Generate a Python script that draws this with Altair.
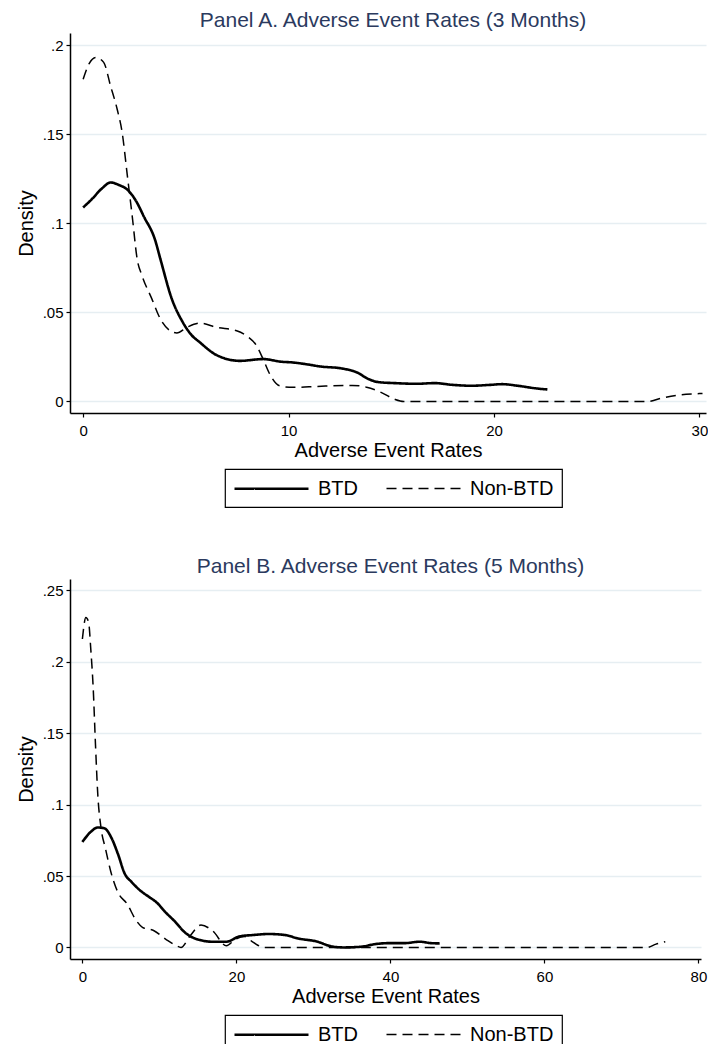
import altair as alt
import pandas as pd

# ---- Panel A (3 months) ----
a_btd_x = [0, 0.42, 0.9, 1.34, 1.74, 2.15, 2.62, 2.95, 3.5, 3.76, 4.32, 4.82, 5.26, 5.69, 6.5,
           7.63, 8.76, 9.65, 10.2, 10.97, 11.5, 12.6, 13.4, 13.8, 14.4, 15.15, 16.25, 17.1,
           18.0, 18.9, 19.8, 20.4, 21.1, 22.0, 22.6]
a_btd_y = [0.109, 0.1136, 0.1195, 0.123, 0.1216, 0.119, 0.1117, 0.104, 0.0908, 0.080, 0.0575,
           0.0451, 0.0375, 0.0331, 0.026, 0.0228, 0.0238, 0.0223, 0.0219, 0.0207, 0.0197,
           0.0185, 0.0159, 0.0131, 0.0108, 0.0103, 0.0099, 0.0103, 0.0093, 0.0088, 0.0093,
           0.0097, 0.0089, 0.0074, 0.0067]
a_non_x = [0, 0.3, 0.61, 1.0, 1.34, 1.66, 1.9, 2.15, 2.39, 2.63, 2.87, 3.35, 3.76, 4.24, 4.56,
           5.05, 5.69, 6.5, 7.47, 7.95, 8.44, 8.76, 9.08, 9.56, 10.2, 11.0, 11.8, 13.1, 13.8,
           14.5, 15.15, 15.6, 27.5, 28.1, 29.0, 30.0, 30.15]
a_non_y = [0.181, 0.19, 0.1933, 0.1905, 0.177, 0.164, 0.151, 0.127, 0.104, 0.080, 0.0706,
           0.0575, 0.0463, 0.0397, 0.0385, 0.0416, 0.044, 0.0416, 0.0397, 0.0369, 0.0313,
           0.0238, 0.0154, 0.0088, 0.0079, 0.0082, 0.0086, 0.009, 0.008, 0.0051, 0.0013,
           0.0, 0.0, 0.0017, 0.0036, 0.0044, 0.0045]

# ---- Panel B (5 months) ----
b_btd_x = [0, 1.1, 2.0, 2.9, 3.7, 4.6, 5.5, 6.4, 7.5, 8.7, 9.6, 10.8, 11.9, 13.4, 15.1, 16.9,
           18.7, 20.4, 22.2, 24.2, 26.3, 28.0, 30.4, 32.4, 33.9, 36.2, 38.0, 39.7, 41.8, 43.8,
           45.3, 46.4]
b_btd_y = [0.0739, 0.081, 0.084, 0.0833, 0.0775, 0.0657, 0.0516, 0.0458, 0.0399, 0.0352,
           0.0317, 0.0246, 0.0188, 0.0101, 0.0054, 0.004, 0.004, 0.0077, 0.0087, 0.0094,
           0.0087, 0.0063, 0.0042, 0.0007, 0.0, 0.0005, 0.0023, 0.003, 0.003, 0.004, 0.003,
           0.0028]
b_non_x = [0, 0.45, 0.8, 1.1, 1.4, 1.7, 2.0, 2.4, 3.0, 3.7, 4.6, 5.8, 7.0, 7.8, 9.3, 10.8, 12.2,
           12.8, 14.0, 15.4, 16.9, 18.7, 19.8, 21.0, 22.2, 23.6, 73.3, 74.5, 75.7]
b_non_y = [0.216, 0.231, 0.228, 0.208, 0.182, 0.142, 0.107, 0.0845, 0.0692, 0.0528, 0.0387,
           0.0305, 0.0188, 0.0141, 0.0117, 0.0059, 0.0012, 0.0, 0.0082, 0.0157, 0.0117,
           0.0012, 0.0054, 0.0077, 0.0035, 0.0, 0.0, 0.0023, 0.004]

groups = ["BTD", "Non-BTD"]
a_xticks = [0, 10, 20, 30]
a_yticks = [0, 0.05, 0.1, 0.15, 0.2]
b_xticks = [0, 20, 40, 60, 80]
b_yticks = [0, 0.05, 0.1, 0.15, 0.2, 0.25]
x_title = "Adverse Event Rates"
y_title = "Density"
title_a = "Panel A. Adverse Event Rates (3 Months)"
title_b = "Panel B. Adverse Event Rates (5 Months)"

FONT = "Liberation Sans"


def make_df(bx, by, nx, ny):
    rows = [{"x": x, "y": y, "group": groups[0]} for x, y in zip(bx, by)]
    rows += [{"x": x, "y": y, "group": groups[1]} for x, y in zip(nx, ny)]
    return pd.DataFrame(rows)


def legend():
    return alt.Legend(
        title=None, orient="none", legendX=155, legendY=436, direction="horizontal",
        columns=2, strokeColor="black", padding=8,
        symbolType="M-1,0H6.4", symbolSize=400,
        symbolStrokeColor="black", labelFontSize=20, labelFont=FONT, labelColor="black",
        labelOffset=62, columnPadding=25, cornerRadius=0,
    )


def panel(df, title, xdom, ydom, xticks, yticks, width):
    return alt.Chart(df).mark_line(interpolate="monotone", color="black").encode(
        x=alt.X("x:Q", scale=alt.Scale(domain=xdom, nice=False, zero=False),
                axis=alt.Axis(values=xticks, title=x_title, grid=False, labelFlush=False,
                              labelPadding=6, titlePadding=2)),
        y=alt.Y("y:Q", scale=alt.Scale(domain=ydom, nice=False, zero=False),
                axis=alt.Axis(values=yticks, title=y_title, grid=True, labelPadding=3,
                              titlePadding=6,
                              labelExpr="datum.value == 0 ? '0' : replace(format(datum.value, '.2~f'), '0.', '.')")),
        strokeDash=alt.StrokeDash("group:N", scale=alt.Scale(domain=groups, range=[[1, 0], [10, 6]]),
                                  legend=legend()),
        strokeWidth=alt.StrokeWidth("group:N", scale=alt.Scale(domain=groups, range=[2.6, 1.5]),
                                    legend=legend()),
    ).properties(
        width=width, height=380,
        title=alt.TitleParams(title, fontSize=21, font=FONT, color="#2b3a5e", fontWeight="normal",
                              anchor="middle", frame="group", offset=2, dx=5),
    )


chart_a = panel(make_df(a_btd_x, a_btd_y, a_non_x, a_non_y), title_a,
                [-0.64, 30.32], [-0.0065, 0.207], a_xticks, a_yticks, 636)
chart_b = panel(make_df(b_btd_x, b_btd_y, b_non_x, b_non_y), title_b,
                [-1.61, 80.34], [-0.0081, 0.258], b_xticks, b_yticks, 631)

chart = alt.vconcat(chart_a, chart_b, spacing=48).resolve_scale(
    x="independent", y="independent", strokeDash="independent", strokeWidth="independent"
).resolve_legend(strokeDash="independent", strokeWidth="independent").properties(
    padding={"left": 8, "top": 2, "right": 0, "bottom": -10}
).configure_view(stroke=None).configure_axis(
    domainColor="black", domainWidth=1.5, tickColor="black", tickSize=4, tickWidth=1.2,
    labelFont=FONT, labelFontSize=15, labelColor="black", titleFont=FONT, titleFontSize=20,
    titleFontWeight="normal", titleColor="black", gridColor="#e6eef2", gridWidth=1.5,
).configure_axisY(labelAngle=0).configure_legend(strokeWidth=1.2)

chart.save("out.html", embed_options={"renderer": "svg", "actions": False})
